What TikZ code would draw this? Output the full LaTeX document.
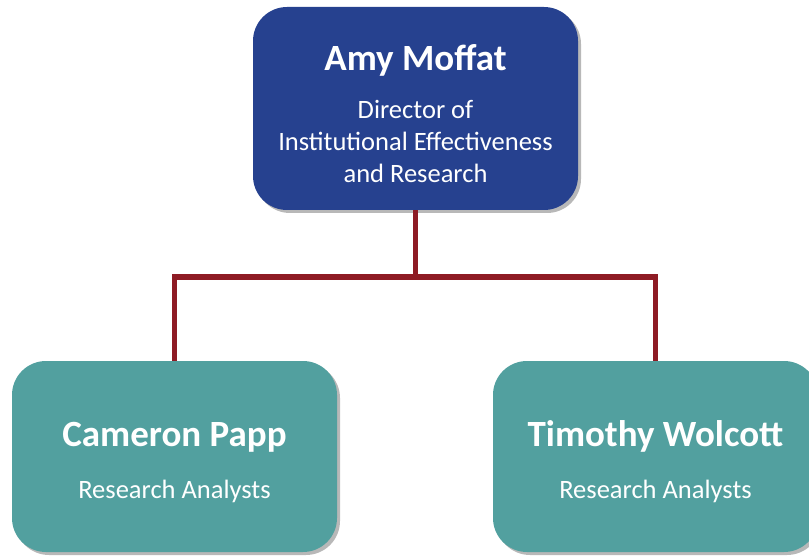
\documentclass[tikz,border=0pt]{standalone}
\usepackage{fontspec}
\setmainfont{Carlito}
\usepackage{tikz}
\usetikzlibrary{shadows}
\definecolor{headblue}{HTML}{26418F}
\definecolor{staffteal}{HTML}{52A09F}
\definecolor{linkred}{HTML}{8E1B24}
\tikzset{
  card/.style={rounded corners=34pt, text=white, align=center, inner sep=0pt,
    font=\fontsize{26.5}{32}\selectfont,
    minimum width=325pt, drop shadow={shadow xshift=3pt, shadow yshift=-3pt, fill=black!28, opacity=1}},
  link/.style={linkred, line width=5.5pt},
}
\newcommand{\cardname}[1]{{\fontsize{37}{44}\bfseries\selectfont\rule{0pt}{36pt}#1}}
\begin{document}
\begin{tikzpicture}[x=1pt, y=-1pt]
        \useasboundingbox (0,0) rectangle (809,556);
        \node[card, fill=headblue, minimum height=203pt] (amy) at (415.5,108.5)
          {\cardname{Amy Moffat}\\[16pt]Director of\\Institutional Effectiveness\\and Research};
        \node[card, fill=staffteal, minimum height=191pt] (cameron) at (174.5,456.5)
          {\cardname{Cameron Papp}\\[20pt]Research Analysts};
        \node[card, fill=staffteal, minimum height=191pt] (timothy) at (655.5,456.5)
          {\cardname{Timothy Wolcott}\\[20pt]Research Analysts};
        \coordinate (bus) at (415.5,277);
        \draw[link] (amy.south) -- (bus);
        \draw[link] (cameron.north) |- (bus) -| (timothy.north);
    \end{tikzpicture}
\end{document}
